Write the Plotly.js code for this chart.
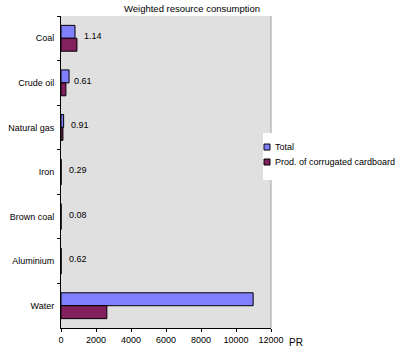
<!DOCTYPE html>
<html><head><meta charset="utf-8">
<script src="https://cdn.plot.ly/plotly-3.0.1.min.js"></script>
<style>body{margin:0;background:#fff}#c{width:400px;height:351px}</style>
</head><body><div id="c"></div>
<script>
const categories = ["Coal","Crude oil","Natural gas","Iron","Brown coal","Aluminium","Water"];
const totalValues = [800, 460, 150, 5, 5, 5, 10980];
const prodValues = [910, 280, 110, 3, 3, 3, 2620];
const labelTexts = ["1.14","0.61","0.91","0.29","0.08","0.62","0.24"];
const labelX = [1180, 650, 480, 320, 320, 320, 12450];
const seriesNames = ["Total","Prod. of corrugated cardboard"];
const seriesColors = ["#8080ff","#83205e"];
const xTicks = [0,2000,4000,6000,8000,10000,12000];

const font = {family:"Liberation Sans, Arial, sans-serif", size:9, color:"#000"};
const traces = seriesNames.map((n,i)=>({type:"bar", orientation:"h", name:n, y:categories,
  x:i===0?totalValues:prodValues, showlegend:false,
  marker:{color:seriesColors[i], line:{color:"#000", width:1}}}));

const annotations = categories.map((c,i)=>({x:labelX[i], y:c, xref:"x", yref:"y",
  text:labelTexts[i], showarrow:false, xanchor:"left", yshift:2, font:font}));
annotations.push({x:1, y:0, xref:"paper", yref:"paper", xshift:16, yshift:-14, text:"PR",
  showarrow:false, xanchor:"left", yanchor:"middle", font:{family:font.family,size:10,color:"#000"}});

// manual legend (Excel style: small squares)
const legY = [0.580, 0.532];
const shapes = [
  {type:"line", xref:"paper", yref:"paper", x0:1, x1:1, y0:0, y1:1, line:{color:"#a0a0a0", width:1}},
  {type:"rect", xref:"paper", yref:"paper", x0:0.962, x1:1.62, y0:0.474, y1:0.625,
   fillcolor:"#fff", line:{width:0}, layer:"above"}
];
seriesNames.forEach((n,i)=>{
  shapes.push({type:"rect", xref:"paper", yref:"paper", x0:0.9667, x1:0.9952,
    y0:legY[i]-0.0096, y1:legY[i]+0.0096, fillcolor:seriesColors[i], line:{color:"#000", width:1}, layer:"above"});
  annotations.push({x:1.01, y:legY[i], xref:"paper", yref:"paper", text:n, showarrow:false,
    xanchor:"left", yanchor:"middle", font:{family:font.family,size:9,color:"#000"}});
});

const layout = {
 width:400, height:351,
 margin:{l:61, r:129, t:16, b:23},
 paper_bgcolor:"#fff", plot_bgcolor:"#e0e0e0",
 font:font, showlegend:false,
 title:{text:"Weighted resource consumption", x:0.48, xanchor:"center", y:0.985, yanchor:"top",
  font:{family:font.family,size:9.5,color:"#000"}},
 barmode:"group", bargap:0.42, bargroupgap:0,
 xaxis:{range:[0,12000], tickvals:xTicks, ticktext:xTicks.map(String), showgrid:false, zeroline:false,
  showline:true, linecolor:"#000", linewidth:1, ticks:"outside", ticklen:3, tickcolor:"#000",
  tickfont:font, fixedrange:true},
 yaxis:{type:"category", categoryorder:"array", categoryarray:categories, autorange:"reversed",
  showgrid:false, showline:true, linecolor:"#000", linewidth:1, ticks:"outside", ticklen:3,
  tickson:"boundaries", tickcolor:"#000", tickfont:font, ticklabelstandoff:4},
 annotations:annotations,
 shapes:shapes
};
Plotly.newPlot("c", traces, layout, {displayModeBar:false, staticPlot:true});
</script></body></html>
